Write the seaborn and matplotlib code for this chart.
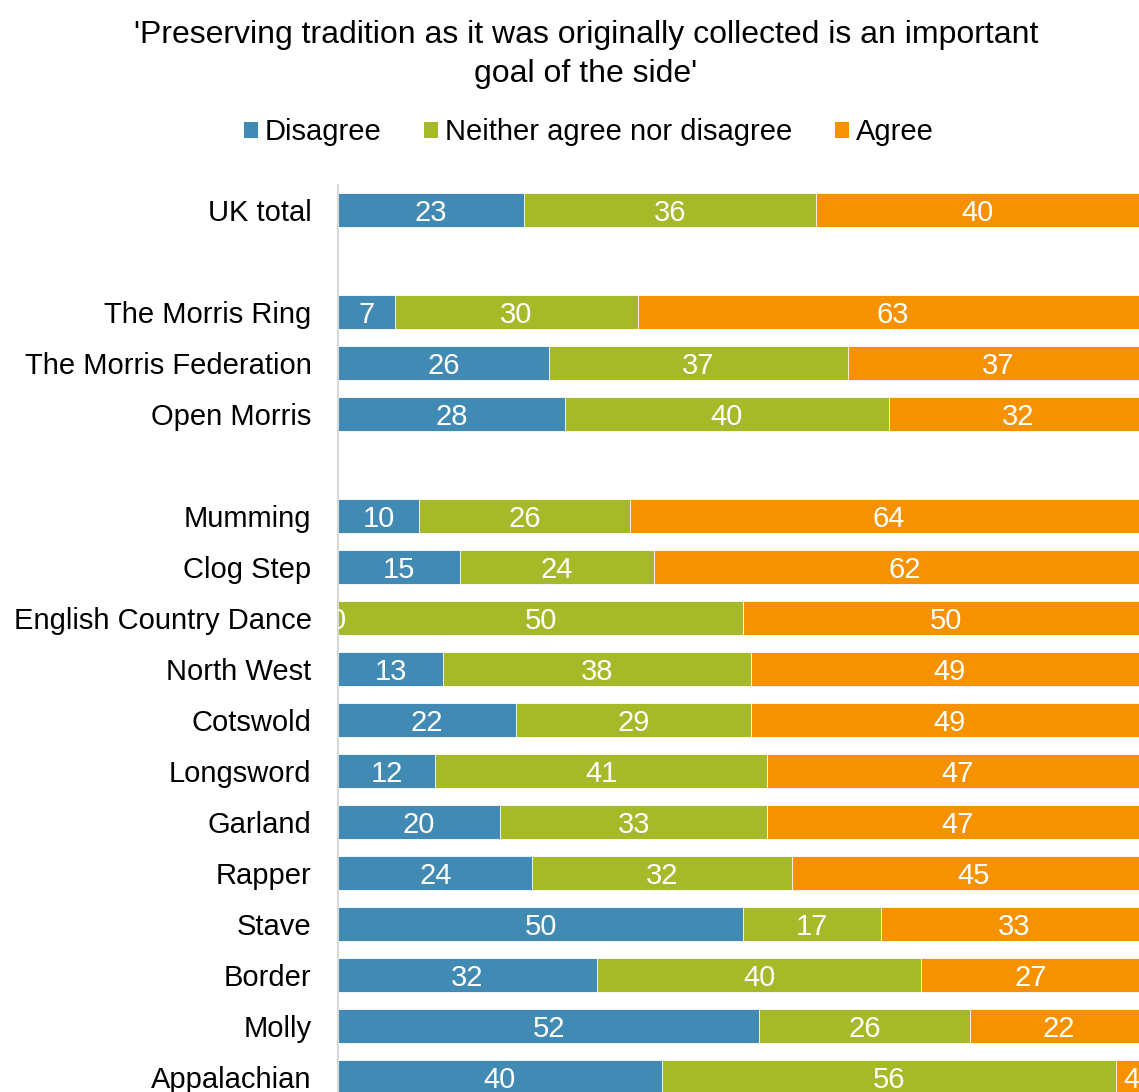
import matplotlib
matplotlib.use("Agg")
import matplotlib.pyplot as plt
from matplotlib.patches import Patch
import numpy as np
import pandas as pd
import seaborn as sns

# Survey groups and response shares (%)
groups = ["UK total", "The Morris Ring", "The Morris Federation", "Open Morris",
          "Mumming", "Clog Step", "English Country Dance", "North West", "Cotswold",
          "Longsword", "Garland", "Rapper", "Stave", "Border", "Molly", "Appalachian"]
disagree = [23, 7, 26, 28, 10, 15, 0, 13, 22, 12, 20, 24, 50, 32, 52, 40]
neither = [36, 30, 37, 40, 26, 24, 50, 38, 29, 41, 33, 32, 17, 40, 26, 56]
agree = [40, 63, 37, 32, 64, 62, 50, 49, 49, 47, 47, 45, 33, 27, 22, 4]
series = ["Disagree", "Neither agree nor disagree", "Agree"]
colors = ["#418AB3", "#A6B928", "#F69100"]
title_lines = ["'Preserving tradition as it was originally collected is an important",
               "goal of the side'"]

# Row order with blank spacer rows between the sections
row_order = groups[:1] + [" "] + groups[1:4] + ["  "] + groups[4:]

df = pd.DataFrame({"group": groups, series[0]: disagree,
                   series[1]: neither, series[2]: agree})
starts = df[series].cumsum(axis=1) - df[series]
ends = df[series].cumsum(axis=1)
for s in series:
    df[s + "_end"] = ends[s]

sns.set_theme(style="white")
plt.rcParams["font.family"] = ["Liberation Sans", "DejaVu Sans"]
plt.rcParams["text.color"] = "black"

W, H = 1139, 1092
fig = plt.figure(figsize=(W / 100, H / 100), dpi=100)
ax = fig.add_axes([338 / W, -10.5 / H, 810 / W, 918 / H])

# Stacked bars: draw cumulative totals from the outermost segment inwards
for s, c in reversed(list(zip(series, colors))):
    sns.barplot(data=df, x=s + "_end", y="group", order=row_order, orient="h",
                color=c, saturation=1, width=0.667, errorbar=None,
                edgecolor="white", linewidth=0.6, ax=ax)

# Value labels centred in each segment
for s in series:
    for i, g in enumerate(groups):
        v = df.loc[i, s]
        x = starts.loc[i, s] + v / 2
        ax.text(x, row_order.index(g), f"{v}", ha="center", va="center_baseline",
                color="white", fontsize=21, clip_on=True)

ax.set_xlim(0, 100)
ax.set_ylim(len(row_order) - 0.5, -0.5)
ax.set_xticks([])
ax.set_xlabel("")
ax.set_ylabel("")
ax.tick_params(axis="y", length=0, pad=19, labelsize=21, labelcolor="black")
for side in ["top", "right", "bottom"]:
    ax.spines[side].set_visible(False)
ax.spines["left"].set_color("#D9D9D9")
ax.spines["left"].set_linewidth(1.5)
ax.set_facecolor("white")

# Two-line title
for line, base in zip(title_lines, [43, 82]):
    fig.text(586 / W, 1 - base / H, line, ha="center", va="baseline",
             fontsize=23, color="black")

handles = [Patch(facecolor=c, edgecolor="none") for c in colors]
fig.legend(handles, series, loc="center", bbox_to_anchor=(589 / W, 1 - 132 / H),
           ncol=3, frameon=False, fontsize=21, handlelength=0.48,
           handleheight=0.48, handletextpad=0.25, columnspacing=1.45,
           borderaxespad=0, labelcolor="black")

fig.savefig("out.png", dpi=100)
